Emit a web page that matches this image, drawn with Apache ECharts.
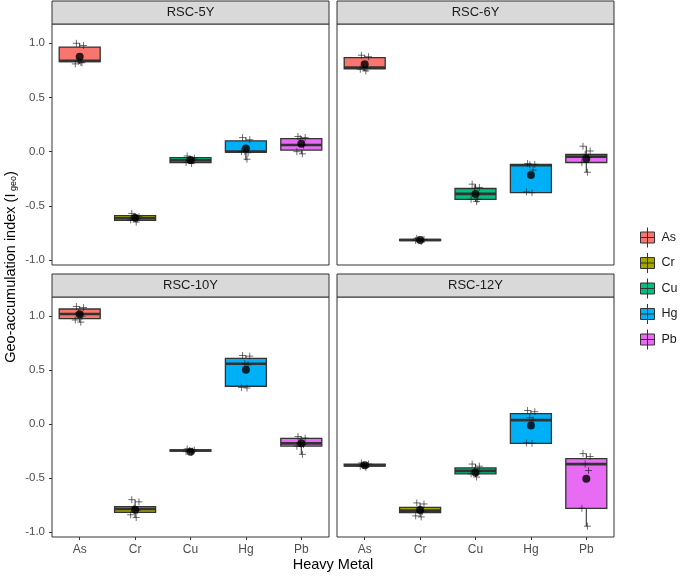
<!DOCTYPE html>
<html><head><meta charset="utf-8">
<script src="https://cdn.jsdelivr.net/npm/echarts@6/dist/echarts.min.js"></script>
<style>html,body{margin:0;padding:0;background:#fff}#c{width:685px;height:576px}</style>
</head><body><div id="c"></div>
<script>
// ---------------- data ----------------
const panelNames = ['RSC-5Y', 'RSC-6Y', 'RSC-10Y', 'RSC-12Y'];
const metals = ['As', 'Cr', 'Cu', 'Hg', 'Pb'];
const metalColors = ['#F8766D', '#A3A500', '#00BF7D', '#00B0F6', '#E76BF3'];
const yTicks = [-1.0, -0.5, 0.0, 0.5, 1.0];

// box statistics per metal: [lower whisker, Q1, median, Q3, upper whisker]
const box5Y = [
  [0.81, 0.83, 0.838, 0.965, 1.0],
  [-0.65, -0.635, -0.615, -0.59, -0.57],
  [-0.11, -0.10, -0.08, -0.055, -0.04],
  [-0.08, -0.005, 0.0, 0.10, 0.13],
  [-0.02, 0.015, 0.062, 0.12, 0.14]
];
const box6Y = [
  [0.745, 0.763, 0.775, 0.867, 0.89],
  [-0.83, -0.82, -0.815, -0.81, -0.80],
  [-0.46, -0.44, -0.39, -0.34, -0.30],
  [-0.38, -0.378, -0.125, -0.117, -0.11],
  [-0.19, -0.10, -0.046, -0.025, 0.05]
];
const box10Y = [
  [0.945, 0.978, 1.021, 1.067, 1.09],
  [-0.865, -0.818, -0.787, -0.765, -0.70],
  [-0.26, -0.25, -0.245, -0.24, -0.23],
  [0.335, 0.351, 0.56, 0.609, 0.636],
  [-0.28, -0.203, -0.178, -0.132, -0.115]
];
const box12Y = [
  [-0.40, -0.39, -0.381, -0.372, -0.36],
  [-0.86, -0.821, -0.802, -0.772, -0.73],
  [-0.49, -0.461, -0.433, -0.406, -0.37],
  [-0.18, -0.178, 0.037, 0.098, 0.126],
  [-0.946, -0.781, -0.371, -0.319, -0.273]
];

// individual samples per metal
const pts5Y = [
  [1.0, 0.98, 0.835, 0.82, 0.81, 0.825],
  [-0.57, -0.60, -0.61, -0.62, -0.63, -0.65],
  [-0.04, -0.06, -0.08, -0.08, -0.10, -0.11],
  [0.13, 0.11, 0.0, -0.01, 0.0, -0.07],
  [0.14, 0.13, 0.12, 0.06, 0.0, -0.02]
];
const pts6Y = [
  [0.89, 0.876, 0.775, 0.77, 0.76, 0.745],
  [-0.80, -0.81, -0.815, -0.815, -0.82, -0.83],
  [-0.30, -0.33, -0.34, -0.44, -0.44, -0.46],
  [-0.11, -0.117, -0.12, -0.17, -0.372, -0.378],
  [0.05, 0.006, -0.025, -0.05, -0.10, -0.19]
];
const pts10Y = [
  [1.09, 1.08, 1.03, 1.0, 0.965, 0.945],
  [-0.70, -0.72, -0.78, -0.80, -0.84, -0.865],
  [-0.23, -0.24, -0.245, -0.25, -0.255, -0.26],
  [0.636, 0.63, 0.56, 0.55, 0.34, 0.335],
  [-0.115, -0.13, -0.17, -0.19, -0.205, -0.28]
];
const pts12Y = [
  [-0.36, -0.37, -0.38, -0.38, -0.39, -0.40],
  [-0.73, -0.74, -0.79, -0.81, -0.85, -0.86],
  [-0.37, -0.39, -0.43, -0.44, -0.46, -0.49],
  [0.126, 0.115, 0.06, 0.037, -0.175, -0.178],
  [-0.273, -0.30, -0.37, -0.43, -0.78, -0.946]
];
// horizontal jitter of the six samples (category units)
const jitter = [-0.06, 0.07, -0.02, 0.04, -0.08, 0.02];

// means per metal
const mean5Y = [0.876, -0.609, -0.077, 0.028, 0.074];
const mean6Y = [0.806, -0.815, -0.39, -0.215, -0.065];
const mean10Y = [1.018, -0.793, -0.255, 0.505, -0.178];
const mean12Y = [-0.381, -0.796, -0.449, -0.012, -0.507];

const boxes = [box5Y, box6Y, box10Y, box12Y];
const pts = [pts5Y, pts6Y, pts10Y, pts12Y];
const means = [mean5Y, mean6Y, mean10Y, mean12Y];

// ---------------- layout ----------------
const FONT = "'Liberation Sans', Arial, sans-serif";
const grids = [
  { left: 52, top: 24, width: 277, height: 241 },
  { left: 337, top: 24, width: 277, height: 241 },
  { left: 52, top: 297, width: 277, height: 240 },
  { left: 337, top: 297, width: 277, height: 240 }
];
const yMin = -1.046, yMax = 1.178;

function renderBox(params, api) {
  const x = api.value(0);
  const lo = api.coord([x, api.value(1)]);
  const q1 = api.coord([x, api.value(2)]);
  const md = api.coord([x, api.value(3)]);
  const q3 = api.coord([x, api.value(4)]);
  const hi = api.coord([x, api.value(5)]);
  const band = api.size([1, 0])[0];
  const half = band * 0.37;
  const cx = md[0];
  const color = api.visual('color');
  return {
    type: 'group',
    children: [
      { type: 'line', shape: { x1: cx, y1: hi[1], x2: cx, y2: q3[1] }, style: { stroke: '#333', lineWidth: 1.1 } },
      { type: 'line', shape: { x1: cx, y1: q1[1], x2: cx, y2: lo[1] }, style: { stroke: '#333', lineWidth: 1.1 } },
      { type: 'rect', shape: { x: cx - half, y: q3[1], width: 2 * half, height: Math.max(q1[1] - q3[1], 0.5) },
        style: { fill: color, stroke: '#333', lineWidth: 1.3 } },
      { type: 'line', shape: { x1: cx - half, y1: md[1], x2: cx + half, y2: md[1] }, style: { stroke: '#333', lineWidth: 2.6 } }
    ]
  };
}

const plusPath = 'path://M5,0L5,10M0,5L10,5';
const keyIcon = 'path://M7,0L7,20M0,4.5L14,4.5L14,15.5L0,15.5ZM0,10L14,10';

const xAxes = [], yAxes = [], series = [], graphics = [];
grids.forEach((g, i) => {
  const bottomRow = i >= 2;
  const leftCol = i % 2 === 0;
  xAxes.push({
    type: 'category', gridIndex: i, data: metals, boundaryGap: true, position: 'bottom',
    axisLine: { show: false, onZero: false },
    axisTick: { show: bottomRow, length: 3, alignWithLabel: true, lineStyle: { color: '#333' } },
    axisLabel: { show: bottomRow, color: '#4D4D4D', fontSize: 12, fontFamily: FONT, margin: 7 },
    splitLine: { show: false }
  });
  xAxes.push({ type: 'value', gridIndex: i, min: -0.5, max: 4.5, show: false, axisLine: { onZero: false } });
  yAxes.push({
    type: 'value', gridIndex: i, min: yMin, max: yMax, position: 'left',
    axisLine: { show: false, onZero: false },
    axisTick: { show: leftCol, length: 3, customValues: yTicks, lineStyle: { color: '#333' } },
    axisLabel: { show: leftCol, customValues: yTicks, color: '#4D4D4D', fontSize: 11.5, fontFamily: FONT, margin: 7,
      formatter: v => Number(v).toFixed(1) },
    splitLine: { show: false }
  });
  metals.forEach((m, k) => {
    series.push({
      type: 'custom', name: m, xAxisIndex: 2 * i, yAxisIndex: i, z: 2,
      renderItem: renderBox, itemStyle: { color: metalColors[k] },
      encode: { x: 0, y: [1, 2, 3, 4, 5] },
      data: [[k].concat(boxes[i][k])],
      silent: true
    });
  });
  const pdata = [];
  pts[i].forEach((arr, k) => arr.forEach((v, j) => pdata.push([k + jitter[j], v])));
  series.push({
    type: 'scatter', xAxisIndex: 2 * i + 1, yAxisIndex: i, z: 3, silent: true,
    symbol: plusPath, symbolSize: 7,
    itemStyle: { color: 'rgba(0,0,0,0)', borderColor: '#1a1a1a', borderWidth: 0.8 },
    data: pdata
  });
  series.push({
    type: 'scatter', xAxisIndex: 2 * i + 1, yAxisIndex: i, z: 4, silent: true,
    symbol: 'circle', symbolSize: 8, itemStyle: { color: '#000' },
    data: means[i].map((v, k) => [k, v])
  });
  // strip
  graphics.push({
    type: 'rect', shape: { x: g.left, y: g.top - 23, width: g.width, height: 23 },
    style: { fill: '#D9D9D9', stroke: '#333', lineWidth: 1 }, z: 1
  });
  graphics.push({
    type: 'text', x: g.left + g.width / 2, y: g.top - 11.5, z: 2,
    style: { text: panelNames[i], fill: '#1A1A1A', fontSize: 13, fontFamily: FONT, align: 'center', verticalAlign: 'middle' }
  });
});

graphics.push({
  type: 'text', x: 333, y: 565,
  style: { text: 'Heavy Metal', fill: '#000', fontSize: 14.5, fontFamily: FONT, align: 'center', verticalAlign: 'middle' }
});
graphics.push({
  type: 'text', x: 11, y: 267, rotation: Math.PI / 2,
  style: {
    text: 'Geo-accumulation index (I{s| geo})', fill: '#000', fontSize: 14.5, fontFamily: FONT,
    align: 'center', verticalAlign: 'middle',
    rich: { s: { fontSize: 9, fontFamily: FONT, fill: '#000', verticalAlign: 'bottom', lineHeight: 12 } }
  }
});

const chart = echarts.init(document.getElementById('c'), null, { renderer: 'canvas' });
chart.setOption({
  animation: false,
  backgroundColor: '#fff',
  grid: grids.map(g => Object.assign({ show: true, borderColor: '#333', borderWidth: 1, backgroundColor: '#fff', containLabel: false }, g)),
  xAxis: xAxes,
  yAxis: yAxes,
  legend: {
    orient: 'vertical', left: 640, top: 227, padding: 0, itemWidth: 14, itemHeight: 20, itemGap: 4.5,
    data: metals.map(m => ({ name: m, icon: keyIcon })),
    itemStyle: { borderColor: '#333', borderWidth: 1 },
    textStyle: { color: '#1A1A1A', fontSize: 12.5, fontFamily: FONT, padding: [0, 0, 0, 2] },
    selectedMode: false
  },
  graphic: graphics,
  series: series
});
</script></body></html>
